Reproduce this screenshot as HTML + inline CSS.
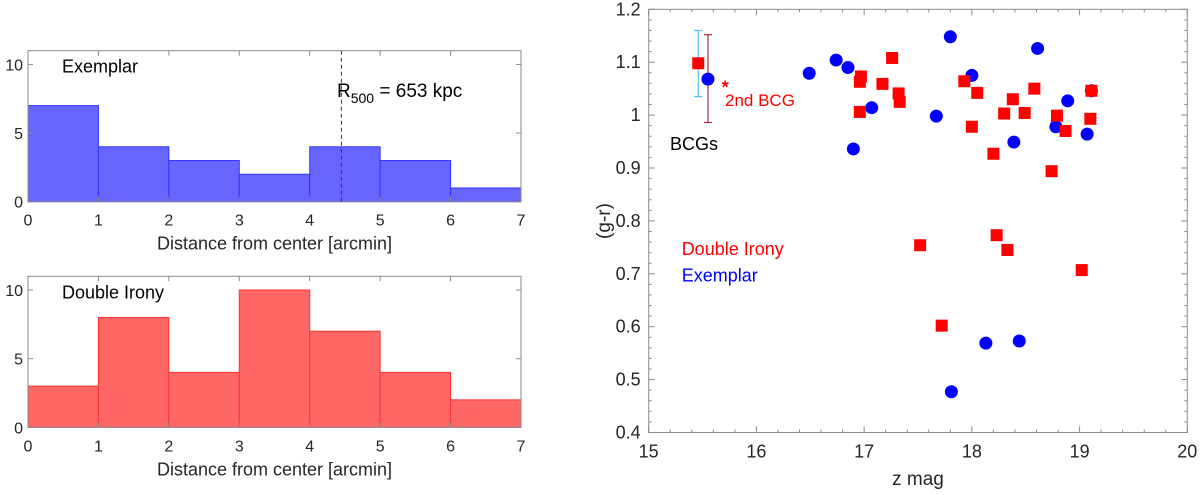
<!DOCTYPE html>
<html><head><meta charset="utf-8"><style>
html,body{margin:0;padding:0;background:#fff;}
svg{display:block;font-family:"Liberation Sans",sans-serif;}
</style></head><body>
<svg id="fig" width="1200" height="495" viewBox="0 0 1200 495" xmlns="http://www.w3.org/2000/svg"></svg>
<script>
// Histogram data
const histBins = [0,1,2,3,4,5,6];
const exemplarCounts = [7,4,3,2,4,3,1];
const doubleIronyCounts = [3,8,4,10,7,4,2];
const histXTicks = [0,1,2,3,4,5,6,7];
const histYTicks = [0,5,10];
const r500Value = [4.45];
// Scatter data
const bcgRed = [[15.46,1.098]];
const bcgBlue = [[15.55,1.068]];
const errCyan = [[15.46,1.035,1.160]];
const errDark = [[15.55,0.986,1.152]];
const secondBcg = [[15.71,1.06]];
const exemplarX = [16.49,16.74,16.85,17.07,16.90,17.80,18.61,18.00,17.67,18.89,18.78,19.07,18.39,19.11,18.13,18.44,17.81];
const exemplarY = [1.079,1.104,1.090,1.014,0.936,1.148,1.126,1.075,0.998,1.027,0.978,0.964,0.949,1.046,0.569,0.573,0.477];
const ironyX = [16.97,16.96,16.96,17.26,17.17,17.32,17.33,17.93,18.05,18.38,18.58,19.11,18.30,18.49,18.79,19.10,18.00,18.87,18.20,18.74,18.23,17.52,18.33,19.02,17.72];
const ironyY = [1.073,1.063,1.006,1.108,1.059,1.041,1.025,1.064,1.042,1.030,1.050,1.046,1.003,1.004,0.999,0.993,0.978,0.970,0.927,0.894,0.773,0.754,0.745,0.707,0.602];
const scXTicks = [15,16,17,18,19,20];
const scYTicks = [0.4,0.5,0.6,0.7,0.8,0.9,1.0,1.1,1.2];
const scYLabels = ["0.4","0.5","0.6","0.7","0.8","0.9","1","1.1","1.2"];

const NS="http://www.w3.org/2000/svg";
const svg=document.getElementById('fig');
function mk(tag,attrs,parent){const e=document.createElementNS(NS,tag);for(const k in attrs)e.setAttribute(k,attrs[k]);(parent||svg).appendChild(e);return e;}
function txt(s,attrs,parent){const e=mk('text',attrs,parent);e.textContent=s;return e;}

function histogram(name,top,bottom,counts,fill,edge,label){
  const g=mk('g',{});
  
  
  const x0=28,x1=521;
  const sx=v=>x0+(x1-x0)*v/7;
  const sy=v=>bottom-(bottom-top)*v/11;
  counts.forEach((c,i)=>{
    const b=histBins[i];
    const r=mk('rect',{x:sx(b),y:sy(c),width:sx(b+1)-sx(b),height:sy(0)-sy(c),fill:fill,stroke:edge,'stroke-width':1},g);
    
    
  });
  mk('rect',{x:x0,y:top,width:x1-x0,height:bottom-top,fill:'none',stroke:'#8a8a8a','stroke-width':1},g);
  histXTicks.forEach(t=>{
    mk('line',{x1:sx(t),x2:sx(t),y1:bottom,y2:bottom-5,stroke:'#8a8a8a'},g);
    mk('line',{x1:sx(t),x2:sx(t),y1:top,y2:top+5,stroke:'#8a8a8a'},g);
    const l=txt(String(t),{x:sx(t),y:bottom+24,'text-anchor':'middle','font-size':16,fill:'#262626'},g);
    
    
  });
  histYTicks.forEach(t=>{
    mk('line',{x1:x0,x2:x0+5,y1:sy(t),y2:sy(t),stroke:'#8a8a8a'},g);
    mk('line',{x1:x1,x2:x1-5,y1:sy(t),y2:sy(t),stroke:'#8a8a8a'},g);
    const l=txt(String(t),{x:x0-5,y:sy(t)+6,'text-anchor':'end','font-size':16,fill:'#262626'},g);
    
    
  });
  const xt=txt('Distance from center [arcmin]',{x:(x0+x1)/2,y:bottom+48,'text-anchor':'middle','font-size':18,fill:'#262626'},g);
  
  
  const lt=txt(label,{x:62,y:top+22,'font-size':18,fill:'#000'},g);
  
  
  return {g,sx,sy};
}
const h1=histogram('exemplar-histogram',50.7,201.7,exemplarCounts,'#6666ff','#3333ff','Exemplar');
const dl=mk('line',{x1:h1.sx(r500Value[0]),x2:h1.sx(r500Value[0]),y1:50.7,y2:201.7,stroke:'#333','stroke-dasharray':'4,3','stroke-width':1},h1.g);


const rt=mk('text',{x:337,y:97,'font-size':19,fill:'#000'},h1.g);


rt.innerHTML='R<tspan dy="6" font-size="14">500</tspan><tspan dy="-6"> = 653 kpc</tspan>';
histogram('double-irony-histogram',276.3,427.3,doubleIronyCounts,'#ff6666','#ff3333','Double Irony');

// Scatter
const L=648.7,R=1187.3,T=9.3,B=432.5;
const X=v=>L+(R-L)*(v-15)/5;
const Y=v=>B-(B-T)*(v-0.4)/0.8;
const sg=mk('g',{});


for(let i=0;i<=25;i++){const v=15+i*0.2;const len=(i%5===0)?6:3;
  mk('line',{x1:X(v),x2:X(v),y1:B,y2:B-len,stroke:'#8a8a8a'},sg);
  mk('line',{x1:X(v),x2:X(v),y1:T,y2:T+len,stroke:'#8a8a8a'},sg);}
for(let i=0;i<=40;i++){const v=0.4+i*0.02;const len=(i%5===0)?6:3;
  mk('line',{x1:L,x2:L+len,y1:Y(v),y2:Y(v),stroke:'#8a8a8a'},sg);
  mk('line',{x1:R,x2:R-len,y1:Y(v),y2:Y(v),stroke:'#8a8a8a'},sg);}
mk('rect',{x:L,y:T,width:R-L,height:B-T,fill:'none',stroke:'#8a8a8a'},sg);
scXTicks.forEach(t=>{const l=txt(String(t),{x:X(t),y:B+25,'text-anchor':'middle','font-size':18,fill:'#262626'},sg);
  
  });
scYTicks.forEach((t,i)=>{const l=txt(scYLabels[i],{x:L-8,y:Y(t)+6,'text-anchor':'end','font-size':18,fill:'#262626'},sg);
  
  });
const xa=txt('z mag',{x:(L+R)/2,y:485,'text-anchor':'middle','font-size':19,fill:'#262626'},sg);


const ya=txt('(g-r)',{x:0,y:0,'text-anchor':'middle','font-size':19,fill:'#262626',transform:'translate(610,221) rotate(-90)'},sg);


function errbar(d,color,name){d.forEach(e=>{const x=X(e[0]);
  const g=mk('g',{stroke:color,'stroke-width':1.2},sg);
  
  
  mk('line',{x1:x,x2:x,y1:Y(e[1]),y2:Y(e[2])},g);
  mk('line',{x1:x-4,x2:x+4,y1:Y(e[1]),y2:Y(e[1])},g);
  mk('line',{x1:x-4,x2:x+4,y1:Y(e[2]),y2:Y(e[2])},g);});}
errbar(errCyan,'#4fc3f0','bcg-error-bar-exemplar');
errbar(errDark,'#b02a3a','bcg-error-bar-double-irony');
function sq(x,y,name){const r=mk('rect',{x:X(x)-6,y:Y(y)-6,width:12,height:12,fill:'#ff0000'},sg);
  
  }
function ci(x,y,name){const c=mk('circle',{cx:X(x),cy:Y(y),r:6.5,fill:'#0000ff'},sg);
  
  }
bcgRed.forEach(p=>sq(p[0],p[1],'bcg-double-irony'));
bcgBlue.forEach(p=>ci(p[0],p[1],'bcg-exemplar'));
exemplarX.forEach((x,i)=>ci(x,exemplarY[i],'exemplar-point'));
ironyX.forEach((x,i)=>sq(x,ironyY[i],'double-irony-point'));
secondBcg.forEach(p=>{const s=txt('*',{x:X(p[0]),y:Y(p[1])+10,'text-anchor':'middle','font-size':18,'font-weight':'bold',fill:'#ff0000'},sg);
  
  });
const t2=txt('2nd BCG',{x:725,y:106,'font-size':17,fill:'#ff0000'},sg);


const tb=txt('BCGs',{x:670,y:150,'font-size':18,fill:'#000'},sg);


const l1=txt('Double Irony',{x:681.7,y:255,'font-size':18,fill:'#ff0000'},sg);


const l2=txt('Exemplar',{x:681.7,y:281.7,'font-size':18,fill:'#0000ff'},sg);


</script>
</body></html>
